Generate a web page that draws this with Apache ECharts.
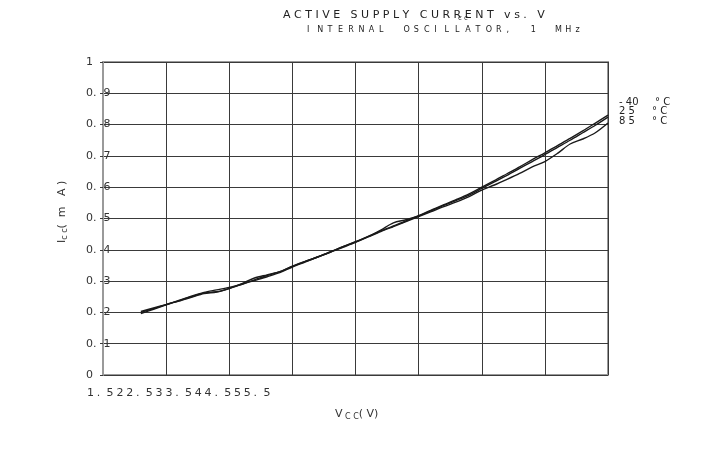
<!DOCTYPE html>
<html>
<head>
<meta charset="utf-8">
<script src="https://cdn.jsdelivr.net/npm/echarts@6/dist/echarts.min.js"></script>
<style>
  html, body { margin: 0; padding: 0; background: #fff; }
  #chart { width: 720px; height: 449px; }
</style>
</head>
<body>
<div id="chart"></div>
<script>
// supply voltage (V)
var vcc = [1.8, 1.9, 2.0, 2.1, 2.2, 2.3, 2.4, 2.5, 2.6, 2.7, 2.8, 2.9, 3.0, 3.1, 3.2, 3.3, 3.4, 3.5, 3.6,
  3.7, 3.8, 3.9, 4.0, 4.1, 4.2, 4.3, 4.4, 4.5, 4.6, 4.7, 4.8, 4.9, 5.0, 5.1, 5.2, 5.3, 5.4, 5.5];
// Icc (mA) per temperature
var iccM40 = [0.196, 0.210, 0.224, 0.238, 0.252, 0.264, 0.272, 0.280, 0.290, 0.302, 0.314, 0.327, 0.345,
  0.361, 0.377, 0.393, 0.410, 0.426, 0.443, 0.460, 0.476, 0.492, 0.509, 0.527, 0.544, 0.561, 0.579,
  0.600, 0.621, 0.643, 0.665, 0.688, 0.710, 0.733, 0.756, 0.780, 0.805, 0.830];
var icc25 = [0.200, 0.212, 0.225, 0.237, 0.250, 0.262, 0.266, 0.277, 0.292, 0.310, 0.320, 0.330, 0.347,
  0.362, 0.377, 0.393, 0.410, 0.425, 0.442, 0.463, 0.486, 0.496, 0.508, 0.525, 0.542, 0.558, 0.575,
  0.596, 0.617, 0.638, 0.660, 0.682, 0.704, 0.727, 0.750, 0.774, 0.798, 0.824];
var icc85 = [0.203, 0.214, 0.225, 0.236, 0.248, 0.260, 0.265, 0.276, 0.290, 0.304, 0.318, 0.330, 0.348,
  0.363, 0.377, 0.392, 0.408, 0.424, 0.441, 0.458, 0.474, 0.490, 0.506, 0.522, 0.538, 0.553, 0.570,
  0.591, 0.607, 0.625, 0.644, 0.665, 0.682, 0.708, 0.738, 0.754, 0.774, 0.805];
var seriesNames = ['-40 °C', '25 °C', '85 °C'];
var legendTemps = ['- 40', '2 5', '8 5'];
var xTickLabels = ['1.5', '2', '2.5', '3', '3.5', '4', '4.5', '5', '5.5'];

function pairs(ys) {
  return vcc.map(function (x, i) { return [x, ys[i]]; });
}
function spaced(s, gap, sep) {
  return s.split(' ').map(function (w) { return w.split('').join(sep || ' '); }).join(gap);
}

var chart = echarts.init(document.getElementById('chart'));
var font = 'DejaVu Sans';
var graphics = [];

// lay text out one char at a time (the source uses wide letter spacing)
function spreadText(str, x0, y, pitch, wordGap, fnt, color) {
  var x = x0;
  str.split('').forEach(function (ch) {
    if (ch === ' ') { x += wordGap; return; }
    graphics.push({ type: 'text', left: x, top: y, style: { text: ch, font: fnt, fill: color } });
    x += pitch;
  });
}

// title + subtitle
graphics.push({ type: 'text', left: 283, top: 10,
  style: { text: spaced('ACTIVE SUPPLY CURRENT vs. V', '   '), font: '11px ' + font, fill: '#222' } });
graphics.push({ type: 'text', left: 458, top: 15,
  style: { text: 'c c', font: '7px ' + font, fill: '#222' } });
spreadText('INTERNAL OSCILLATOR, 1 MHz', 307, 26, 10.3, 14, '8px ' + font, '#222');

// x tick labels all crammed together at bottom left
var xs = xTickLabels.join('').split('');
xs.forEach(function (ch, i) {
  graphics.push({ type: 'text', left: 87 + i * 9.8, top: 388,
    style: { text: ch, font: '11px ' + font, fill: '#333' } });
});

// axis names
graphics.push({ type: 'text', left: 335, top: 409,
  style: { text: '{a|V}{b| C C}{a|( V)}', font: '11px ' + font, fill: '#333',
    rich: { a: { font: '11px ' + font, fill: '#333' }, b: { font: '8px ' + font, fill: '#333', padding: [5, 0, 0, 0] } } } });
graphics.push({ type: 'text', x: 56, y: 243, rotation: Math.PI / 2,
  style: { text: '{a|I}{b|c c}{a|(  m   A )}', font: '11px ' + font, fill: '#333',
    rich: { a: { font: '11px ' + font, fill: '#333' }, b: { font: '8px ' + font, fill: '#333', padding: [5, 0, 0, 0] } } } });

// temperature labels at right end
legendTemps.forEach(function (t, i) {
  graphics.push({ type: 'text', left: 619, top: 97 + i * 9.5,
    style: { text: t, font: '10px ' + font, fill: '#222' } });
  graphics.push({ type: 'text', left: i === 0 ? 655 : 652, top: 97 + i * 9.5,
    style: { text: '° C', font: '10px ' + font, fill: '#222' } });
});

var option = {
  backgroundColor: '#fff',
  animation: false,
  grid: { left: 103, right: 112, top: 62, bottom: 74, show: true, borderColor: '#9a9a9a', borderWidth: 2 },
  xAxis: {
    type: 'value', min: 1.5, max: 5.5, interval: 0.5,
    axisLine: { show: false },
    axisTick: { show: false },
    axisLabel: { show: false },
    splitLine: { show: true, lineStyle: { color: '#3a3a3a', width: 1 } }
  },
  yAxis: {
    type: 'value', min: 0, max: 1, interval: 0.1,
    axisLine: { show: true, lineStyle: { color: '#9a9a9a', width: 2 } },
    axisTick: { show: true, length: 3, lineStyle: { color: '#3a3a3a' } },
    axisLabel: {
      align: 'left', margin: 17, color: '#333', fontFamily: font, fontSize: 11,
      formatter: function (v) {
        if (v === 0) return '0';
        if (v === 1) return '1';
        return v.toFixed(1).replace('.', '.  ');
      }
    },
    splitLine: { show: true, lineStyle: { color: '#3a3a3a', width: 1 } }
  },
  series: [
    { name: seriesNames[0], type: 'line', data: pairs(iccM40), showSymbol: false, smooth: 0.3,
      lineStyle: { color: '#1a1a1a', width: 1.4 } },
    { name: seriesNames[1], type: 'line', data: pairs(icc25), showSymbol: false, smooth: 0.3,
      lineStyle: { color: '#1a1a1a', width: 1.4 } },
    { name: seriesNames[2], type: 'line', data: pairs(icc85), showSymbol: false, smooth: 0.3,
      lineStyle: { color: '#1a1a1a', width: 1.4 } }
  ],
  graphic: graphics
};
chart.setOption(option);
</script>
</body>
</html>
